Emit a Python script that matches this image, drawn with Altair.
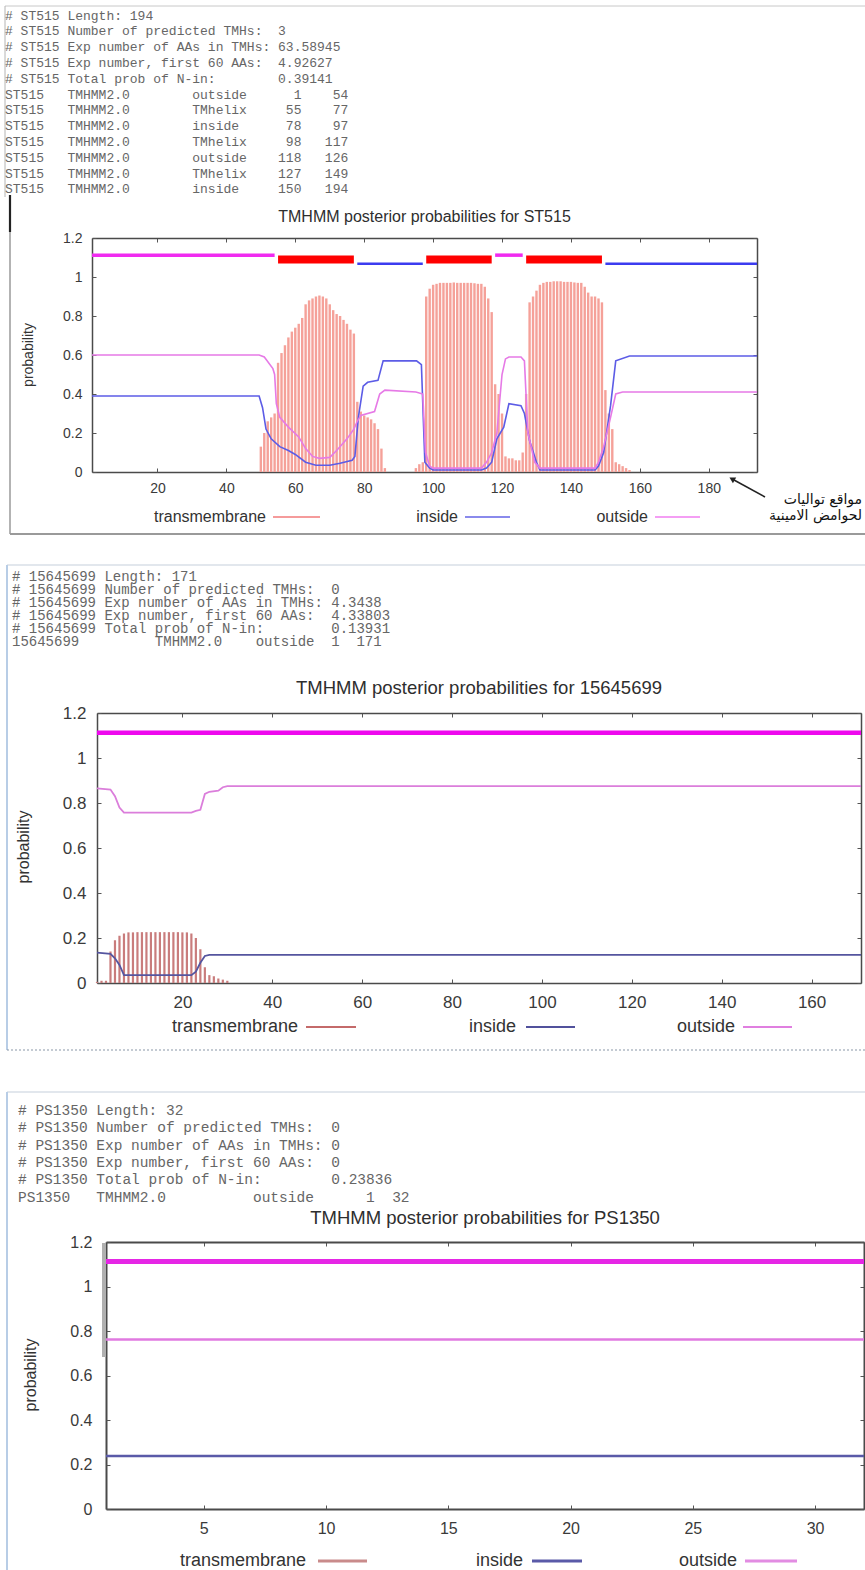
import altair as alt
import pandas as pd

W, H = 865, 1570
NBSP = "\u00a0"
SANS = "Liberation Sans"
MONO = "Liberation Mono"
Y_TICKS = [0, 0.2, 0.4, 0.6, 0.8, 1, 1.2]
LEVEL = {"outside": 1.112, "TMhelix": 1.09, "inside": 1.068}

# ---------------- Panel 1 : ST515 ----------------
p1_id = "ST515"
p1_length = 194
p1_summary = [
    "# ST515 Length: 194",
    "# ST515 Number of predicted TMHs:  3",
    "# ST515 Exp number of AAs in TMHs: 63.58945",
    "# ST515 Exp number, first 60 AAs:  4.92627",
    "# ST515 Total prob of N-in:        0.39141",
]
p1_seg_type = ["outside", "TMhelix", "inside", "TMhelix", "outside", "TMhelix", "inside"]
p1_seg_start = [1, 55, 78, 98, 118, 127, 150]
p1_seg_end = [54, 77, 97, 117, 126, 149, 194]
p1_tm_pos = list(range(50, 87)) + list(range(95, 127)) + list(range(127, 158))
p1_tm_val = [
    # 50-86
    0.13, 0.20, 0.26, 0.28, 0.30, 0.56, 0.61, 0.65, 0.69, 0.72, 0.74, 0.76, 0.79,
    0.86, 0.88, 0.89, 0.90, 0.905, 0.90, 0.89, 0.86, 0.83, 0.81, 0.80, 0.78, 0.76,
    0.73, 0.71, 0.36, 0.31, 0.29, 0.28, 0.27, 0.25, 0.22, 0.12, 0.02,
    # 95-126
    0.02, 0.04, 0.05, 0.90, 0.94, 0.96, 0.965, 0.97, 0.97, 0.97, 0.97, 0.972, 0.97,
    0.97, 0.97, 0.97, 0.97, 0.968, 0.965, 0.965, 0.95, 0.89, 0.82, 0.45, 0.40, 0.30,
    0.08, 0.07, 0.07, 0.06, 0.06, 0.10,
    # 127-157
    0.40, 0.87, 0.90, 0.93, 0.96, 0.97, 0.975, 0.975, 0.978, 0.978, 0.978, 0.975,
    0.975, 0.975, 0.972, 0.97, 0.97, 0.95, 0.92, 0.90, 0.90, 0.89, 0.87, 0.42, 0.30,
    0.22, 0.05, 0.04, 0.03, 0.02, 0.01,
]
p1_in_pos = [1, 49.5, 50.5, 51.5, 53, 55.5, 58, 60, 63, 66, 70, 73, 76.5, 77.3, 78.3,
             79.7, 81, 84, 85.5, 95.2, 96.6, 97.6, 99, 100, 114, 115.5, 117, 118.5, 120.5,
             122, 125.5, 126.5, 128, 130, 131, 147, 148, 149.5, 151.5, 153, 157, 194]
p1_in_val = [0.39, 0.39, 0.33, 0.22, 0.17, 0.13, 0.11, 0.09, 0.05, 0.035, 0.035, 0.045,
             0.06, 0.08, 0.28, 0.44, 0.46, 0.47, 0.57, 0.57, 0.55, 0.05, 0.02, 0.01, 0.01,
             0.02, 0.05, 0.17, 0.23, 0.35, 0.34, 0.30, 0.16, 0.05, 0.01, 0.01, 0.03, 0.10,
             0.34, 0.57, 0.595, 0.595]
p1_out_pos = [1, 49.5, 51, 53.5, 54, 54.5, 55.5, 58, 61, 63, 65, 67, 70, 72, 75, 77, 78,
              79, 83, 84.5, 86, 95, 97, 97.8, 99, 100, 114, 115.5, 117, 118.5, 120, 121,
              122, 125.5, 126.5, 127.5, 129.5, 131, 147, 148, 149.5, 151.5, 153, 155, 194]
p1_out_val = [0.60, 0.60, 0.59, 0.53, 0.50, 0.35, 0.28, 0.23, 0.18, 0.12, 0.08, 0.07,
              0.075, 0.11, 0.17, 0.22, 0.26, 0.29, 0.31, 0.40, 0.42, 0.41, 0.40, 0.10,
              0.03, 0.02, 0.02, 0.05, 0.10, 0.20, 0.50, 0.58, 0.59, 0.59, 0.57, 0.20,
              0.05, 0.02, 0.02, 0.05, 0.13, 0.28, 0.40, 0.41, 0.41]
p1_xticks = [20, 40, 60, 80, 100, 120, 140, 160, 180]

# ---------------- Panel 2 : 15645699 ----------------
p2_id = "15645699"
p2_length = 171
p2_summary = [
    "# 15645699 Length: 171",
    "# 15645699 Number of predicted TMHs:  0",
    "# 15645699 Exp number of AAs in TMHs: 4.3438",
    "# 15645699 Exp number, first 60 AAs:  4.33803",
    "# 15645699 Total prob of N-in:        0.13931",
]
p2_seg_type = ["outside"]
p2_seg_start = [1]
p2_seg_end = [171]
p2_tm_pos = list(range(1, 31))
p2_tm_val = [0.005, 0.01, 0.01, 0.14, 0.19, 0.21, 0.22,
             0.225, 0.225, 0.226, 0.226, 0.226, 0.226, 0.226, 0.226, 0.226, 0.226, 0.226,
             0.226, 0.225, 0.225,
             0.22, 0.20, 0.15, 0.07, 0.035, 0.03, 0.02, 0.015, 0.01]
p2_in_pos = [1, 4, 5, 6, 7, 22, 23, 24, 25, 26, 171]
p2_in_val = [0.135, 0.13, 0.11, 0.08, 0.035, 0.035, 0.05, 0.09, 0.12, 0.125, 0.125]
p2_out_pos = [1, 4, 5, 6, 7, 22, 23, 24, 25, 26, 28, 29, 30, 171]
p2_out_val = [0.865, 0.86, 0.83, 0.78, 0.757, 0.757, 0.765, 0.77, 0.84, 0.85, 0.855,
              0.87, 0.875, 0.875]
p2_xticks = [20, 40, 60, 80, 100, 120, 140, 160]

# ---------------- Panel 3 : PS1350 ----------------
p3_id = "PS1350"
p3_length = 32
p3_summary = [
    "# PS1350 Length: 32",
    "# PS1350 Number of predicted TMHs:  0",
    "# PS1350 Exp number of AAs in TMHs: 0",
    "# PS1350 Exp number, first 60 AAs:  0",
    "# PS1350 Total prob of N-in:        0.23836",
]
p3_seg_type = ["outside"]
p3_seg_start = [1]
p3_seg_end = [32]
p3_tm_pos = []
p3_tm_val = []
p3_in_pos = [1, 32]
p3_in_val = [0.238, 0.238]
p3_out_pos = [1, 32]
p3_out_val = [0.762, 0.762]
p3_xticks = [5, 10, 15, 20, 25, 30]

legend_labels = ["transmembrane", "inside", "outside"]
arabic_note = ["مواقع تواليات", "لحوامض الامينية"]

# table rows of the TMHMM text output
p1_rows = [f"{p1_id:<8}{'TMHMM2.0':<16}{t:<8}{s:>6}{e:>6}"
           for t, s, e in zip(p1_seg_type, p1_seg_start, p1_seg_end)]
p2_rows = [f"{p2_id:<17}{'TMHMM2.0':<12}{t:<7}{s:>3}{e:>5}"
           for t, s, e in zip(p2_seg_type, p2_seg_start, p2_seg_end)]
p3_rows = [f"{p3_id:<9}{'TMHMM2.0':<18}{t:<7}{s:>7}{e:>4}"
           for t, s, e in zip(p3_seg_type, p3_seg_start, p3_seg_end)]

one = pd.DataFrame({"k": [0]})


def txt(x, y, text, size, font=SANS, color="#333333", align="center",
        baseline="middle", **kw):
    props = dict(text=text, fontSize=size, font=font, color=color, align=align,
                 baseline=baseline)
    props.update(kw)
    return alt.Chart(one).mark_text(**props).encode(x=alt.value(x), y=alt.value(y))


def seg(x1, y1, x2, y2, color, width=1.0, dash=None):
    props = dict(color=color, strokeWidth=width)
    if dash:
        props["strokeDash"] = dash
    return alt.Chart(one).mark_rule(**props).encode(
        x=alt.value(x1), x2=alt.value(x2), y=alt.value(y1), y2=alt.value(y2))


def build_panel(P):
    xs = alt.Scale(domain=[1, P["length"]], range=[P["x0"], P["x1"]], nice=False, zero=False)
    ys = alt.Scale(domain=[0, 1.2], range=[P["yb"], P["yt"]], nice=False, zero=False)
    base = dict(grid=False, title=None)
    lab = dict(labelFont=SANS, labelFontSize=P["tick_fs"], labelColor="#3a3a3a",
               labelFlush=False, labelOverlap=False)
    tk = dict(tickColor="#555555", tickWidth=1, tickSize=4)
    dom = dict(domainColor="#4a4a4a", domainWidth=P["bw"])
    axA_x = alt.Axis(orient="bottom", offset=P["yb"] - H, values=P["xticks"], format="d",
                     ticks=False, labels=True, domain=True, labelPadding=P["xpad"],
                     **dom, **lab, **base)
    axA_y = alt.Axis(orient="left", offset=-P["x0"], values=Y_TICKS, format=".1~f",
                     ticks=False, labels=True, domain=True, labelPadding=P["ypad"],
                     **dom, **lab, **base)
    axB_x = alt.Axis(orient="top", offset=-P["yb"], values=P["xticks"], ticks=True,
                     labels=False, domain=False, **tk, **base)
    axB_y = alt.Axis(orient="right", offset=P["x0"] - W, values=Y_TICKS, ticks=True,
                     labels=False, domain=False, **tk, **base)
    axC_x = alt.Axis(orient="bottom", offset=P["yt"] - H, values=P["xticks"], ticks=True,
                     labels=False, domain=True, **tk, **dom, **base)
    axC_y = alt.Axis(orient="left", offset=-P["x1"], values=Y_TICKS, ticks=True,
                     labels=False, domain=True, **tk, **dom, **base)

    layers = []
    if P["tm_pos"]:
        tm = pd.DataFrame({"pos": P["tm_pos"], "v": P["tm_val"]})
        layers.append(alt.Chart(tm).mark_rule(color=P["tm_color"], strokeWidth=P["tm_w"]).encode(
            x=alt.X("pos:Q", scale=xs, axis=None),
            y=alt.Y("v:Q", scale=ys, axis=None),
            y2=alt.datum(0)))
    ins = pd.DataFrame({"pos": P["in_pos"], "v": P["in_val"]})
    layers.append(alt.Chart(ins).mark_line(color=P["in_color"], strokeWidth=P["line_w"]).encode(
        x=alt.X("pos:Q", scale=xs, axis=axA_x),
        y=alt.Y("v:Q", scale=ys, axis=axA_y)))
    out = pd.DataFrame({"pos": P["out_pos"], "v": P["out_val"]})
    layers.append(alt.Chart(out).mark_line(color=P["out_color"], strokeWidth=P["line_w"]).encode(
        x=alt.X("pos:Q", scale=xs, axis=axB_x),
        y=alt.Y("v:Q", scale=ys, axis=axB_y)))
    segs = pd.DataFrame({"start": P["seg_start"], "end": P["seg_end"], "type": P["seg_type"],
                         "level": [LEVEL[t] for t in P["seg_type"]]})
    for t in ["outside", "inside", "TMhelix"]:
        if t not in P["seg_type"]:
            continue
        first = t == "outside"
        layers.append(alt.Chart(segs).transform_filter(alt.datum.type == t).mark_rule(
            color=P["seg_color"][t], strokeWidth=P["seg_w"][t]).encode(
            x=alt.X("start:Q", scale=xs, axis=axC_x if first else None),
            x2="end:Q",
            y=alt.Y("level:Q", scale=ys, axis=axC_y if first else None)))
    return alt.layer(*layers).resolve_axis(x="independent", y="independent")


P1 = dict(length=p1_length, x0=92, x1=757, yb=472, yt=238, xticks=p1_xticks, tick_fs=14,
          xpad=9, ypad=10, bw=1.5, tm_pos=p1_tm_pos, tm_val=p1_tm_val, tm_color="#f5a199",
          tm_w=2.4, in_pos=p1_in_pos, in_val=p1_in_val, out_pos=p1_out_pos,
          out_val=p1_out_val, in_color="#5c5ce6", out_color="#e67ae6", line_w=1.6,
          seg_type=p1_seg_type, seg_start=p1_seg_start, seg_end=p1_seg_end,
          seg_color={"outside": "#f02af0", "TMhelix": "#ff0000", "inside": "#3c3cf0"},
          seg_w={"outside": 3.5, "TMhelix": 8, "inside": 2.5})
P2 = dict(length=p2_length, x0=97, x1=861, yb=983, yt=713, xticks=p2_xticks, tick_fs=17,
          xpad=11, ypad=11, bw=1.5, tm_pos=p2_tm_pos, tm_val=p2_tm_val, tm_color="#c97c7c",
          tm_w=2.2, in_pos=p2_in_pos, in_val=p2_in_val, out_pos=p2_out_pos,
          out_val=p2_out_val, in_color="#55559f", out_color="#db7edb", line_w=1.8,
          seg_type=p2_seg_type, seg_start=p2_seg_start, seg_end=p2_seg_end,
          seg_color={"outside": "#ee08ee"}, seg_w={"outside": 4.5})
P3 = dict(length=p3_length, x0=106, x1=864, yb=1509, yt=1242, xticks=p3_xticks, tick_fs=16,
          xpad=11, ypad=14, bw=2, tm_pos=p3_tm_pos, tm_val=p3_tm_val, tm_color="#c98b8b",
          tm_w=2.2, in_pos=p3_in_pos, in_val=p3_in_val, out_pos=p3_out_pos,
          out_val=p3_out_val, in_color="#5a5aa8", out_color="#e07ae0", line_w=2.5,
          seg_type=p3_seg_type, seg_start=p3_seg_start, seg_end=p3_seg_end,
          seg_color={"outside": "#e526e5"}, seg_w={"outside": 5})


def mono_block(x, y, lines, size, lh):
    return txt(x, y, [ln.replace(" ", NBSP) for ln in lines], size, font=MONO,
               color="#666666", align="left", baseline="alphabetic", lineHeight=lh)


ann = []
# panel frames
ann += [
    seg(5, 6, 865, 6, "#c8c8c8", 1), seg(5, 6, 5, 197, "#b4b4b4", 1),
    seg(10, 195, 10, 232, "#222222", 2.2), seg(10, 232, 10, 534, "#9a9a9a", 1.5),
    seg(10, 534, 865, 534, "#9a9a9a", 2),
    seg(7, 565, 865, 565, "#c5d0dc", 1.2), seg(7, 565, 7, 1050, "#b8cde6", 2),
    seg(7, 1050, 865, 1050, "#8a98a8", 1.2, dash=[2, 2]),
    seg(7, 1092, 865, 1092, "#c5d0dc", 1.2), seg(7, 1092, 7, 1570, "#b8cde6", 2),
    seg(104, 1243, 104, 1357, "#b0b0b0", 4),
]
# text output blocks
ann += [
    mono_block(5, 19.5, p1_summary + p1_rows, 13, 15.8),
    mono_block(12, 581, p2_summary + p2_rows, 14, 13),
    mono_block(18, 1115, p3_summary + p3_rows, 14.5, 17.3),
]
# titles and y titles
ann += [
    txt(424.5, 217, f"TMHMM posterior probabilities for {p1_id}", 16, color="#2e2e2e"),
    txt(479, 688, f"TMHMM posterior probabilities for {p2_id}", 18.5, color="#2e2e2e"),
    txt(485, 1218, f"TMHMM posterior probabilities for {p3_id}", 18.5, color="#2e2e2e"),
    txt(28.5, 355, "probability", 14, angle=270, color="#333333"),
    txt(24, 847, "probability", 16, angle=270, color="#333333"),
    txt(31, 1375, "probability", 16, angle=270, color="#333333"),
]
# legends (gnuplot key: label then line sample)
legend_specs = [
    (517, 16, 1.6, [266, 458, 648], [(273, 320), (465, 510), (655, 700)],
     ["#f27a7a", "#6363e6", "#f07ef0"]),
    (1027, 18, 2.0, [298, 516, 735], [(306, 356), (526, 575), (743, 792)],
     ["#c46a6a", "#51519c", "#e07fe0"]),
    (1561, 18, 3.0, [306, 523, 737], [(318, 367), (532, 582), (745, 797)],
     ["#c98b8b", "#5a5aa8", "#e28ce2"]),
]
for ly, fs, lw, tx, lines, cols in legend_specs:
    for lab, x_end, (a, b), c in zip(legend_labels, tx, lines, cols):
        ann.append(txt(x_end, ly, lab, fs, align="right", color="#333333"))
        ann.append(seg(a, ly, b, ly, c, lw))
# arabic annotation with arrow
ann += [
    txt(862, 500, arabic_note[0], 14, font="DejaVu Sans", align="right", color="#111111"),
    txt(862, 516, arabic_note[1], 14, font="DejaVu Sans", align="right", color="#111111"),
    seg(765, 497, 734, 480, "#222222", 1.5),
    alt.Chart(one).mark_point(shape="triangle-up", filled=True, angle=299, size=45,
                              color="#222222", opacity=1).encode(
        x=alt.value(732), y=alt.value(479)),
]

chart = alt.layer(
    *ann, build_panel(P1), build_panel(P2), build_panel(P3)
).resolve_scale(x="independent", y="independent").properties(
    width=W, height=H, padding=0, autosize=alt.AutoSizeParams(type="none")
).configure_view(strokeWidth=0)

chart.save("out.html", embed_options={"renderer": "svg", "actions": False})
